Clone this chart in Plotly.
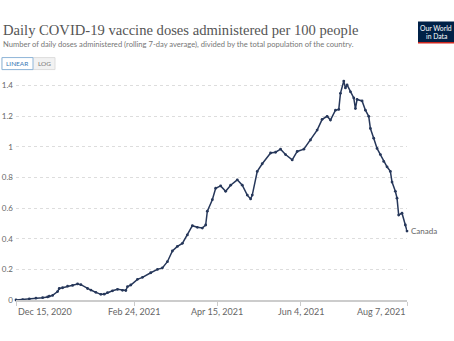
import plotly.graph_objects as go

dates = ["2020-12-15","2020-12-19","2020-12-23","2020-12-27","2020-12-31","2021-01-03","2021-01-04","2021-01-06","2021-01-09","2021-01-10",
         "2021-01-12","2021-01-15","2021-01-18","2021-01-21","2021-01-23","2021-01-27","2021-01-29",
         "2021-02-01","2021-02-04","2021-02-06","2021-02-08","2021-02-11","2021-02-14","2021-02-17","2021-02-19","2021-02-20",
         "2021-02-22","2021-02-26","2021-03-01","2021-03-06","2021-03-10","2021-03-13","2021-03-16",
         "2021-03-19","2021-03-22","2021-03-25","2021-03-28","2021-03-31","2021-04-03","2021-04-06",
         "2021-04-08","2021-04-09","2021-04-12","2021-04-14","2021-04-17","2021-04-20","2021-04-23",
         "2021-04-27","2021-04-30","2021-05-03","2021-05-05","2021-05-06","2021-05-09","2021-05-12",
         "2021-05-17","2021-05-20","2021-05-23","2021-05-26","2021-05-30","2021-06-02","2021-06-06",
         "2021-06-10","2021-06-14","2021-06-17","2021-06-20","2021-06-22","2021-06-25","2021-06-27",
         "2021-06-28","2021-06-30","2021-07-01","2021-07-02","2021-07-04","2021-07-06","2021-07-07",
         "2021-07-08","2021-07-11","2021-07-13","2021-07-15","2021-07-16","2021-07-18","2021-07-20",
         "2021-07-22","2021-07-24","2021-07-26","2021-07-28","2021-07-29","2021-07-31","2021-08-01",
         "2021-08-02","2021-08-04","2021-08-06","2021-08-07"]
values = [0.0,0.003,0.007,0.012,0.015,0.02,0.025,0.03,0.055,0.075,
          0.08,0.09,0.095,0.105,0.10,0.075,0.065,
          0.05,0.037,0.038,0.048,0.06,0.07,0.063,0.062,0.087,
          0.098,0.135,0.148,0.178,0.20,0.21,0.25,
          0.32,0.35,0.37,0.425,0.485,0.475,0.47,
          0.49,0.58,0.655,0.73,0.745,0.71,0.75,
          0.785,0.75,0.685,0.66,0.685,0.84,0.89,
          0.96,0.965,0.985,0.95,0.915,0.97,0.985,
          1.045,1.11,1.18,1.20,1.175,1.24,1.245,
          1.35,1.43,1.385,1.405,1.36,1.32,1.25,
          1.31,1.30,1.24,1.20,1.12,1.057,0.99,
          0.95,0.905,0.87,0.84,0.77,0.71,0.665,
          0.555,0.567,0.49,0.45]
series_name = "Canada"
y_ticks = [0, 0.2, 0.4, 0.6, 0.8, 1, 1.2, 1.4]
y_tick_text = ["0", "0.2", "0.4", "0.6", "0.8", "1", "1.2", "1.4"]
x_ticks = ["2020-12-15", "2021-02-24", "2021-04-15", "2021-06-04", "2021-08-07"]
x_tick_text = ["Dec 15, 2020", "Feb 24, 2021", "Apr 15, 2021", "Jun 4, 2021", "Aug 7, 2021"]

LINE = "#26375a"
fig = go.Figure()
fig.add_trace(go.Scatter(x=dates, y=values, mode="lines+markers",
                         line=dict(color=LINE, width=1.5),
                         marker=dict(color=LINE, size=2.8),
                         showlegend=False, hoverinfo="skip", cliponaxis=False))
fig.add_annotation(x=dates[-1], y=values[-1], text=series_name, showarrow=False,
                   xanchor="left", xshift=2, yanchor="middle",
                   font=dict(family="Lato", size=8, color="#666"))

W, H = 454, 341
L, R, T, B = 16, 47, 78.4, 41
fig.update_layout(
    width=W, height=H, margin=dict(l=L, r=R, t=T, b=B, autoexpand=False),
    paper_bgcolor="white", plot_bgcolor="white",
    xaxis=dict(type="date", range=["2020-12-15", "2021-08-07"], automargin=False,
               tickvals=x_ticks, showticklabels=False, showgrid=False,
               showline=True, linecolor="#cccccc", linewidth=1.5,
               ticks="outside", ticklen=4, tickcolor="#cccccc"),
    yaxis=dict(range=[0, 1.45], tickvals=y_ticks, ticktext=y_tick_text, automargin=False,
               showgrid=True, gridcolor="#dddddd", griddash="dot", gridwidth=1,
               zeroline=False, ticks="", ticklabelstandoff=2,
               tickfont=dict(family="Lato", size=8, color="#666")),
    font=dict(family="Lato"),
)

# x tick labels (edge labels aligned inward, as in the reference)
for i, (tv, tt) in enumerate(zip(x_ticks, x_tick_text)):
    anchor = "left" if i == 0 else ("right" if i == len(x_ticks) - 1 else "center")
    fig.add_annotation(x=tv, xref="x", yref="paper", y=0, yanchor="top", yshift=-4,
                       xanchor=anchor, text=tt, showarrow=False,
                       font=dict(family="Lato", size=9, color="#666"))

def px(xp):
    return (xp - L) / (W - L - R)
def py(yp):
    return (H - B - yp) / (H - T - B)

# title and subtitle
fig.add_annotation(xref="paper", yref="paper", x=px(1), y=py(30),
                   xanchor="left", yanchor="middle", showarrow=False,
                   text="Daily COVID-19 vaccine doses administered per 100 people",
                   font=dict(family="Liberation Serif", size=14.6, color="#555"))
fig.add_annotation(xref="paper", yref="paper", x=px(1), y=py(44),
                   xanchor="left", yanchor="middle", showarrow=False,
                   text="Number of daily doses administered (rolling 7-day average), divided by the total population of the country.",
                   font=dict(family="Lato", size=7.6, color="#777"))

# LINEAR / LOG toggle
fig.add_shape(type="rect", xref="paper", yref="paper", x0=px(2), x1=px(55), y0=py(70), y1=py(58),
              line=dict(color="#dddddd", width=1), fillcolor="#f2f2f2", layer="above")
fig.add_shape(type="rect", xref="paper", yref="paper", x0=px(2), x1=px(33), y0=py(70), y1=py(58),
              line=dict(color="#8fb6d9", width=1), fillcolor="white", layer="above")
fig.add_annotation(xref="paper", yref="paper", x=px(17.5), y=py(64), text="LINEAR", showarrow=False,
                   xanchor="center", yanchor="middle",
                   font=dict(family="Lato", size=6.5, color="#3a78b5"))
fig.add_annotation(xref="paper", yref="paper", x=px(44), y=py(64), text="LOG", showarrow=False,
                   xanchor="center", yanchor="middle",
                   font=dict(family="Lato", size=6.5, color="#777"))

# Our World in Data logo
fig.add_shape(type="rect", xref="paper", yref="paper", x0=px(418), x1=px(454), y0=py(43), y1=py(22),
              line=dict(width=0), fillcolor="#002147", layer="above")
fig.add_shape(type="rect", xref="paper", yref="paper", x0=px(418), x1=px(454), y0=py(44), y1=py(42.5),
              line=dict(width=0), fillcolor="#ce261e", layer="above")
fig.add_annotation(xref="paper", yref="paper", x=px(436), y=py(28.5), text="Our World",
                   showarrow=False, xanchor="center", yanchor="middle",
                   font=dict(family="Lato", size=6.8, color="white"))
fig.add_annotation(xref="paper", yref="paper", x=px(436), y=py(36), text="in Data",
                   showarrow=False, xanchor="center", yanchor="middle",
                   font=dict(family="Lato", size=6.8, color="white"))

fig.write_html("out.html")
